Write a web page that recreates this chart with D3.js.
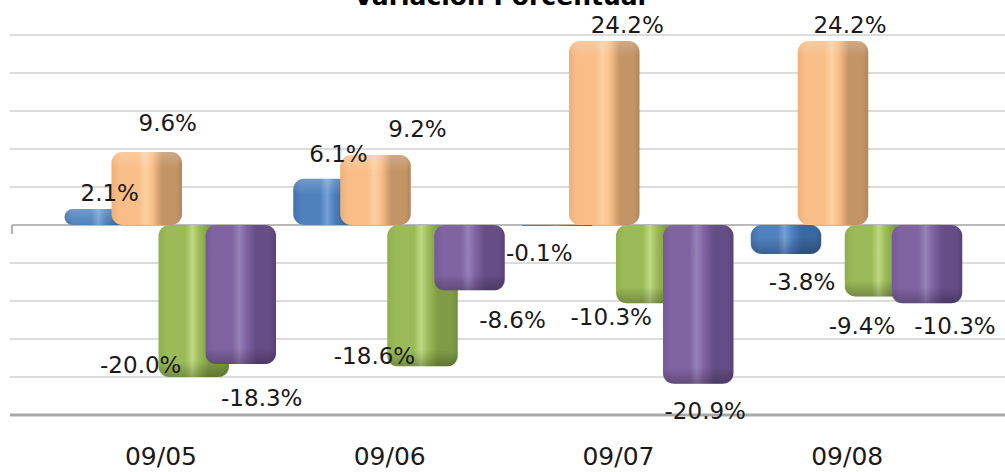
<!DOCTYPE html>
<html>
<head>
<meta charset="utf-8">
<script src="https://cdn.jsdelivr.net/npm/d3@7"></script>
<style>
  html, body { margin: 0; padding: 0; background: #ffffff; }
  svg { display: block; }
</style>
</head>
<body>
<svg id="chart" width="1005" height="472"></svg>
<script>
// ---- data ----
const title = "Variación Porcentual";
const categories = ["09/05", "09/06", "09/07", "09/08"];
const seriesNames = ["s1", "s2", "s3", "s4"];
const s1Values = [2.1, 6.1, -0.1, -3.8];
const s2Values = [9.6, 9.2, 24.2, 24.2];
const s3Values = [-20.0, -18.6, -10.3, -9.4];
const s4Values = [-18.3, -8.6, -20.9, -10.3];
const yTicks = [-25, -20, -15, -10, -5, 0, 5, 10, 15, 20, 25];

// ---- layout ----
const W = 1005, H = 472;
const svg = d3.select("#chart");

const y = d3.scaleLinear().domain([-25, 25]).range([415, 35]);
const x = d3.scaleBand().domain(categories).range([12, 927]).padding(0);
// bars inside a group are stepped and overlap (3-D clustered look)
const xs = d3.scaleBand().domain(seriesNames).range([0, 188]).padding(0);
const groupInset = 52.5;
const barW = xs.step() * 1.5;

const palette = {
  s1: { edge: "#4472aa", base: "#4f81bd", hi: "#74a0d6", dark: "#3b689f", cap: "#335c8f" },
  s2: { edge: "#efb078", base: "#f9be88", hi: "#fcd1a2", dark: "#c39466", cap: "#b3875b" },
  s3: { edge: "#8fb04e", base: "#9bbb59", hi: "#bfd982", dark: "#7f9b45", cap: "#728c3d" },
  s4: { edge: "#765b99", base: "#8064a2", hi: "#9780b8", dark: "#654d86", cap: "#574274" }
};

const defs = svg.append("defs");
seriesNames.forEach(k => {
  const c = palette[k];
  const g = defs.append("linearGradient").attr("id", "grad-" + k)
    .attr("x1", "0").attr("x2", "1").attr("y1", "0").attr("y2", "0");
  [[0, c.edge], [0.12, c.base], [0.38, c.base], [0.48, c.hi], [0.58, c.base],
   [0.72, c.dark], [0.92, c.dark], [1, c.cap]].forEach(([o, col]) =>
    g.append("stop").attr("offset", o).attr("stop-color", col));
});
const capDown = defs.append("linearGradient").attr("id", "capDown")
  .attr("x1", "0").attr("x2", "0").attr("y1", "0").attr("y2", "1");
capDown.append("stop").attr("offset", 0).attr("stop-color", "#000").attr("stop-opacity", 0);
capDown.append("stop").attr("offset", 1).attr("stop-color", "#000").attr("stop-opacity", 0.25);
const capUp = defs.append("linearGradient").attr("id", "capUp")
  .attr("x1", "0").attr("x2", "0").attr("y1", "0").attr("y2", "1");
capUp.append("stop").attr("offset", 0).attr("stop-color", "#fff").attr("stop-opacity", 0.2);
capUp.append("stop").attr("offset", 1).attr("stop-color", "#fff").attr("stop-opacity", 0);

svg.append("rect").attr("width", W).attr("height", H).attr("fill", "#fff");

// ---- grid ----
svg.append("g").selectAll("line")
  .data(yTicks.filter(t => t !== 0 && t !== -25))
  .join("line")
  .attr("x1", 10).attr("x2", W)
  .attr("y1", d => y(d)).attr("y2", d => y(d))
  .attr("stroke", "#dcdcdc").attr("stroke-width", 2);

// bottom floor line
svg.append("line")
  .attr("x1", 10).attr("x2", W)
  .attr("y1", y(-25)).attr("y2", y(-25))
  .attr("stroke", "#a9a9a9").attr("stroke-width", 3);

// zero line with category ticks
svg.append("line")
  .attr("x1", 12).attr("x2", W)
  .attr("y1", y(0)).attr("y2", y(0))
  .attr("stroke", "#b9b9b9").attr("stroke-width", 2);
svg.append("g").selectAll("line")
  .data(categories.map(c => x(c)).concat([x.range()[1]]))
  .join("line")
  .attr("x1", d => d).attr("x2", d => d)
  .attr("y1", y(0)).attr("y2", y(0) + 9)
  .attr("stroke", "#9a9a9a").attr("stroke-width", 1.5);

// ---- bars ----
const allValues = { s1: s1Values, s2: s2Values, s3: s3Values, s4: s4Values };
const bars = [];
categories.forEach((cat, ci) => {
  seriesNames.forEach(k => {
    const v = allValues[k][ci];
    bars.push({ cat, ci, k, v, x0: x(cat) + groupInset + xs(k) });
  });
});

const barG = svg.append("g");
bars.forEach(b => {
  const top = y(Math.max(b.v, 0));
  const bot = y(Math.min(b.v, 0));
  const h = Math.max(bot - top, 0.01);
  const r = Math.min(11, h / 2);
  barG.append("rect")
    .attr("x", b.x0).attr("y", top)
    .attr("width", barW).attr("height", h)
    .attr("rx", r).attr("ry", r)
    .attr("fill", `url(#grad-${b.k})`);
  const capH = Math.min(16, h);
  if (b.v < 0) {
    barG.append("rect")
      .attr("x", b.x0).attr("y", bot - capH)
      .attr("width", barW).attr("height", capH)
      .attr("rx", r).attr("ry", r)
      .attr("fill", "url(#capDown)");
  } else {
    barG.append("rect")
      .attr("x", b.x0).attr("y", top)
      .attr("width", barW).attr("height", capH)
      .attr("rx", r).attr("ry", r)
      .attr("fill", "url(#capUp)");
  }
});

// ---- value labels ----
// nudges [dx, dy] from the bar centre / bar end, per category then series
const labelNudge = [
  [[10, -8], [21, -21], [-53, -4], [21, 42]],
  [[10, -17], [42, -18], [-48, -2], [43, 38]],
  [[-18, 35], [23, -8], [-40, 22], [7, 35]],
  [[16, 36], [17, -8], [-18, 38], [28, 31]]
];
const fmt = v => v.toFixed(1) + "%";
svg.append("g").selectAll("text")
  .data(bars)
  .join("text")
  .attr("x", d => d.x0 + barW / 2 + labelNudge[d.ci][seriesNames.indexOf(d.k)][0])
  .attr("y", d => y(d.v) + labelNudge[d.ci][seriesNames.indexOf(d.k)][1])
  .attr("text-anchor", "middle")
  .attr("font-family", "'DejaVu Sans', Verdana, sans-serif")
  .attr("font-size", 23)
  .attr("fill", "#1a1a1a")
  .text(d => fmt(d.v));

// ---- category labels ----
svg.append("g").selectAll("text")
  .data(categories)
  .join("text")
  .attr("x", d => x(d) + 149)
  .attr("y", 465)
  .attr("text-anchor", "middle")
  .attr("font-family", "'DejaVu Sans', Verdana, sans-serif")
  .attr("font-size", 25)
  .attr("fill", "#1a1a1a")
  .text(d => d);

// ---- title (sits against the top edge) ----
svg.append("text")
  .attr("x", 500).attr("y", 5)
  .attr("text-anchor", "middle")
  .attr("font-family", "'DejaVu Sans', Verdana, sans-serif")
  .attr("font-weight", "bold")
  .attr("font-size", 25)
  .attr("fill", "#000")
  .text(title);
</script>
</body>
</html>
